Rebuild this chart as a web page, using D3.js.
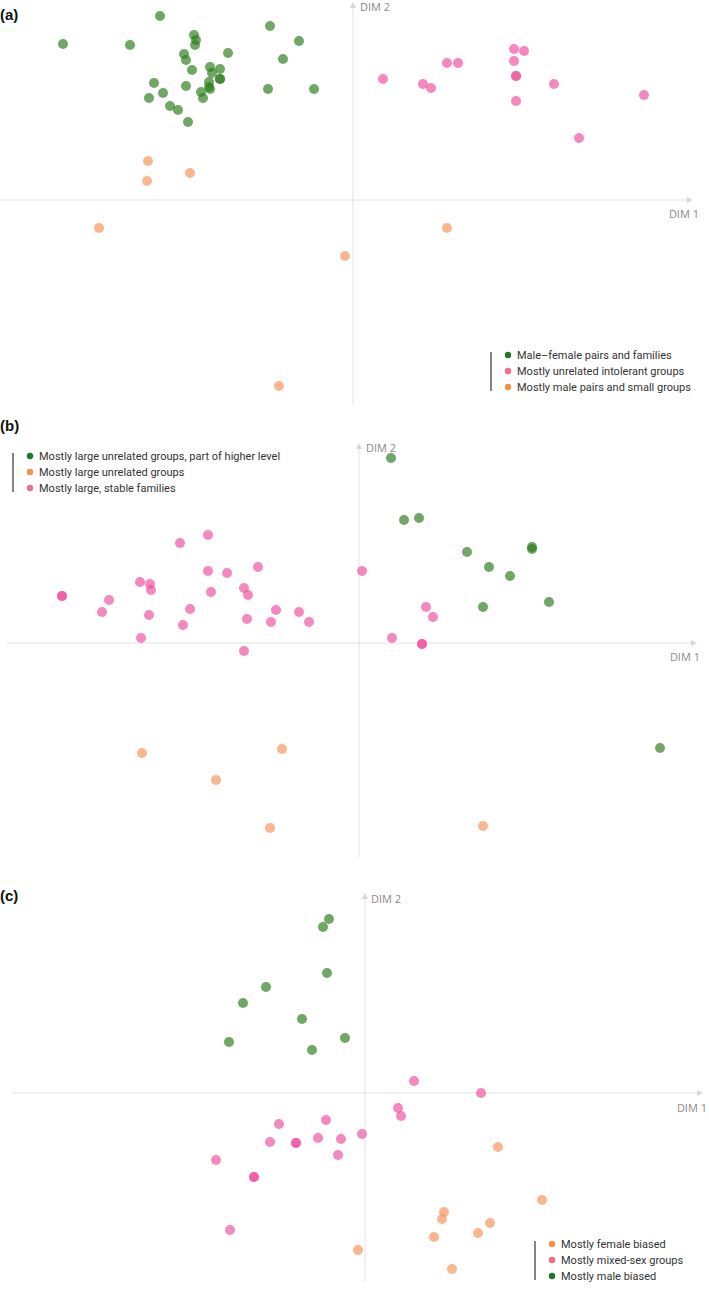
<!DOCTYPE html>
<html><head><meta charset="utf-8">
<script src="https://cdn.jsdelivr.net/npm/d3@7"></script>
<style>body{margin:0;background:#fff}svg{display:block}</style>
</head><body>
<script>
// ---------- DATA (DIM 1, DIM 2 in arbitrary ordination units) ----------
const panelLabels = ["(a)", "(b)", "(c)"];

const aLegend = ["Male\u2013female pairs and families", "Mostly unrelated intolerant groups", "Mostly male pairs and small groups"];
const aGreen = [[-0.965,0.92],[-1.45,0.78],[-1.115,0.775],[-0.795,0.825],[-0.785,0.80],[-0.79,0.775],[-0.415,0.87],[-0.27,0.795],[-0.625,0.735],[-0.845,0.73],[-0.835,0.70],[-0.35,0.705],[-0.715,0.665],[-0.665,0.655],[-0.705,0.635],[-0.805,0.65],[-0.665,0.605],[-0.665,0.605],[-0.72,0.59],[-0.72,0.565],[-0.715,0.555],[-0.76,0.54],[-0.75,0.51],[-0.995,0.585],[-0.95,0.535],[-1.02,0.51],[-0.835,0.57],[-0.915,0.47],[-0.875,0.45],[-0.825,0.39],[-0.425,0.555],[-0.195,0.555]];
const aPink = [[0.805,0.755],[0.855,0.745],[0.47,0.685],[0.525,0.685],[0.805,0.695],[0.815,0.62],[0.815,0.62],[0.15,0.605],[0.35,0.58],[0.39,0.56],[1.005,0.58],[1.455,0.525],[0.815,0.495],[1.13,0.31]];
const aOrange = [[-1.025,0.195],[-1.03,0.095],[-0.815,0.135],[-1.27,-0.14],[-0.04,-0.28],[0.47,-0.14],[-0.37,-0.93]];

const bLegend = ["Mostly large unrelated groups, part of higher level", "Mostly large unrelated groups", "Mostly large, stable families"];
const bGreen = [[0.16,0.925],[0.225,0.615],[0.30,0.625],[0.54,0.455],[0.865,0.48],[0.865,0.47],[0.65,0.38],[0.755,0.335],[0.62,0.18],[0.95,0.205],[1.505,-0.525]];
const bOrange = [[-1.085,-0.55],[-0.385,-0.53],[-0.715,-0.685],[-0.445,-0.925],[0.62,-0.915]];
const bPink = [[-0.755,0.54],[-0.895,0.50],[-0.755,0.36],[-0.66,0.35],[-0.505,0.38],[-1.095,0.305],[-1.045,0.295],[-1.04,0.265],[-0.74,0.255],[-0.575,0.275],[-0.555,0.24],[-1.485,0.235],[-1.485,0.235],[-1.25,0.215],[-1.285,0.155],[-1.05,0.14],[-0.845,0.17],[-0.88,0.09],[-0.56,0.12],[-0.415,0.165],[-0.44,0.105],[-0.30,0.155],[-0.25,0.105],[-1.09,0.025],[-0.575,-0.04],[0.015,0.36],[0.165,0.025],[0.335,0.18],[0.37,0.13],[0.315,-0.005],[0.315,-0.005]];

const cLegend = ["Mostly female biased", "Mostly mixed-sex groups", "Mostly male biased"];
const cOrange = [[0.665,-0.27],[0.885,-0.535],[0.395,-0.595],[0.385,-0.63],[0.625,-0.65],[0.565,-0.70],[0.345,-0.72],[-0.035,-0.785],[0.435,-0.88]];
const cPink = [[0.245,0.06],[0.58,0.0],[0.165,-0.075],[0.18,-0.115],[-0.43,-0.155],[-0.195,-0.135],[-0.475,-0.245],[-0.345,-0.25],[-0.345,-0.25],[-0.235,-0.225],[-0.12,-0.23],[-0.015,-0.205],[-0.135,-0.31],[-0.745,-0.335],[-0.555,-0.42],[-0.555,-0.42],[-0.675,-0.685]];
const cGreen = [[-0.18,0.87],[-0.21,0.83],[-0.19,0.60],[-0.495,0.53],[-0.61,0.45],[-0.315,0.37],[-0.68,0.255],[-0.265,0.215],[-0.10,0.275]];

const axisNames = ["DIM 1", "DIM 2"];

// ---------- STYLE ----------
const W = 709, H = 1299;
const col = {
  green: {pt: "#2e7d1a", lg: "#1b7a26"},
  pink:  {pt: "#f0509f", lg: "#ee7086"},
  orange:{pt: "#f7955a", lg: "#f59145"}
};
const R = 5, OP = 0.68;

const panels = [
  {label: panelLabels[0], labelY: 20, ox: 353, oy: 200, xL: 0, xR: 693, yT: 2, yB: 405, dim1: [699, 218], dim2: [360, 11],
   series: [["green", aGreen], ["pink", aPink], ["orange", aOrange]],
   legend: {x: 491, y0: 355, names: aLegend, keys: ["green", "pink", "orange"]}},
  {label: panelLabels[1], labelY: 431, ox: 359, oy: 643, xL: 7, xR: 697, yT: 443, yB: 857, dim1: [700, 661], dim2: [366, 452],
   series: [["green", bGreen], ["orange", bOrange], ["pink", bPink]],
   legend: {x: 13, y0: 456, names: bLegend, keys: ["green", "orange", "pink"]}},
  {label: panelLabels[2], labelY: 901, ox: 365, oy: 1093, xL: 12, xR: 703, yT: 893, yB: 1282, dim1: [707, 1112], dim2: [371, 903],
   series: [["green", cGreen], ["pink", cPink], ["orange", cOrange]],
   legend: {x: 535, y0: 1244, names: cLegend, keys: ["orange", "pink", "green"]}}
];

const svg = d3.select("body").append("svg").attr("width", W).attr("height", H);

panels.forEach(p => {
  const g = svg.append("g");
  const x = d3.scaleLinear().domain([-1, 1]).range([p.ox - 200, p.ox + 200]);
  const y = d3.scaleLinear().domain([-1, 1]).range([p.oy + 200, p.oy - 200]);

  // axes
  g.append("line").attr("x1", p.xL).attr("x2", p.xR - 4).attr("y1", y(0)).attr("y2", y(0))
    .attr("stroke", "#e2e2e2").attr("stroke-width", 1);
  g.append("path").attr("d", `M${p.xR},${y(0)} L${p.xR-6},${y(0)-3} L${p.xR-6},${y(0)+3}Z`).attr("fill", "#d8d8d8");
  g.append("line").attr("x1", x(0)).attr("x2", x(0)).attr("y1", p.yT + 4).attr("y2", p.yB)
    .attr("stroke", "#e2e2e2").attr("stroke-width", 1);
  g.append("path").attr("d", `M${x(0)},${p.yT} L${x(0)-3},${p.yT+6} L${x(0)+3},${p.yT+6}Z`).attr("fill", "#d8d8d8");

  g.append("text").attr("x", p.dim1[0]).attr("y", p.dim1[1]).attr("text-anchor", "end")
    .attr("font-family", "'Open Sans', sans-serif").attr("font-size", 11).attr("fill", "#8a8a8a").text(axisNames[0]);
  g.append("text").attr("x", p.dim2[0]).attr("y", p.dim2[1])
    .attr("font-family", "'Open Sans', sans-serif").attr("font-size", 11).attr("fill", "#8a8a8a").text(axisNames[1]);

  // panel label
  g.append("text").attr("x", 0).attr("y", p.labelY).attr("font-family", "'Liberation Sans', Arial, sans-serif")
    .attr("font-weight", "bold").attr("font-size", 15).attr("fill", "#111").text(p.label);

  // points
  p.series.forEach(([k, pts]) => {
    g.append("g").selectAll("circle").data(pts).join("circle")
      .attr("cx", d => x(d[0])).attr("cy", d => y(d[1])).attr("r", R)
      .attr("fill", col[k].pt).attr("fill-opacity", OP);
  });

  // legend
  const L = p.legend, n = L.names.length;
  const lg = g.append("g");
  lg.append("line").attr("x1", L.x).attr("x2", L.x).attr("y1", L.y0 - 3).attr("y2", L.y0 + 16 * (n - 1) + 4)
    .attr("stroke", "#333").attr("stroke-width", 1.2);
  L.names.forEach((nm, i) => {
    lg.append("circle").attr("cx", L.x + 17).attr("cy", L.y0 + 16 * i).attr("r", 3.2).attr("fill", col[L.keys[i]].lg);
    lg.append("text").attr("x", L.x + 26).attr("y", L.y0 + 16 * i + 4)
      .attr("font-family", "Roboto, sans-serif").attr("font-size", 11).attr("fill", "#333").text(nm);
  });
});
</script>
</body></html>
